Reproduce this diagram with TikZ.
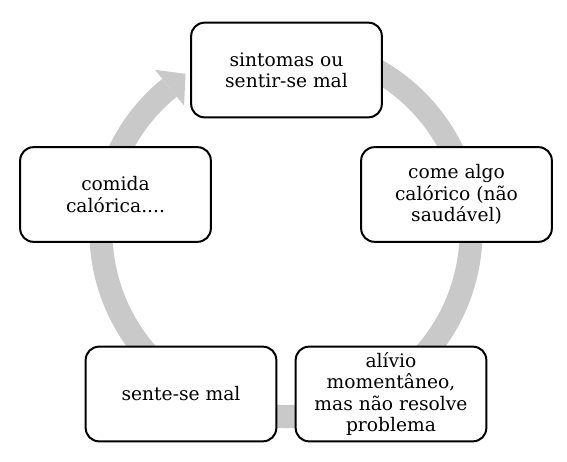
\documentclass[tikz,border=0pt]{standalone}
\usepackage{fontspec}
\setmainfont{DejaVu Serif}
\usepackage{tikz}
\definecolor{ringgray}{RGB}{201,201,201}

\begin{document}
\begin{tikzpicture}[x=0.75pt,y=0.75pt]
        \tikzset{BoxStyle/.style={draw, line width=1.5pt, fill=white,
        rounded corners=10pt, minimum width=143pt, minimum height=71pt,
        align=center, inner sep=1pt,
        font=\fontsize{14}{16}\selectfont}}
        \tikzset{RingStyle/.style={line width=17.25pt, draw=ringgray}}
        \useasboundingbox (0,0) rectangle (567,461);
        \coordinate (Ctr) at (286,229.5);
        \draw[RingStyle, shift={(Ctr)}] (75:185) arc[start angle=75, end angle=-231, radius=185];
        \fill[ringgray, shift={(Ctr)}] (129:162) -- (122.5:187) -- (129:208) -- cycle;
        \node[BoxStyle] (Sint) at (286.5,391) {sintomas ou\\sentir-se mal};
        \node[BoxStyle] (Come) at (456.5,266.5) {come algo\\calórico (não\\saudável)};
        \node[BoxStyle] (Alivio) at (391,67) {alívio\\momentâneo,\\mas não resolve\\problema};
        \node[BoxStyle] (Sente) at (181,67) {sente-se mal};
        \node[BoxStyle] (Comida) at (115.5,266.5) {comida\\calórica....};
\end{tikzpicture}
\end{document}
